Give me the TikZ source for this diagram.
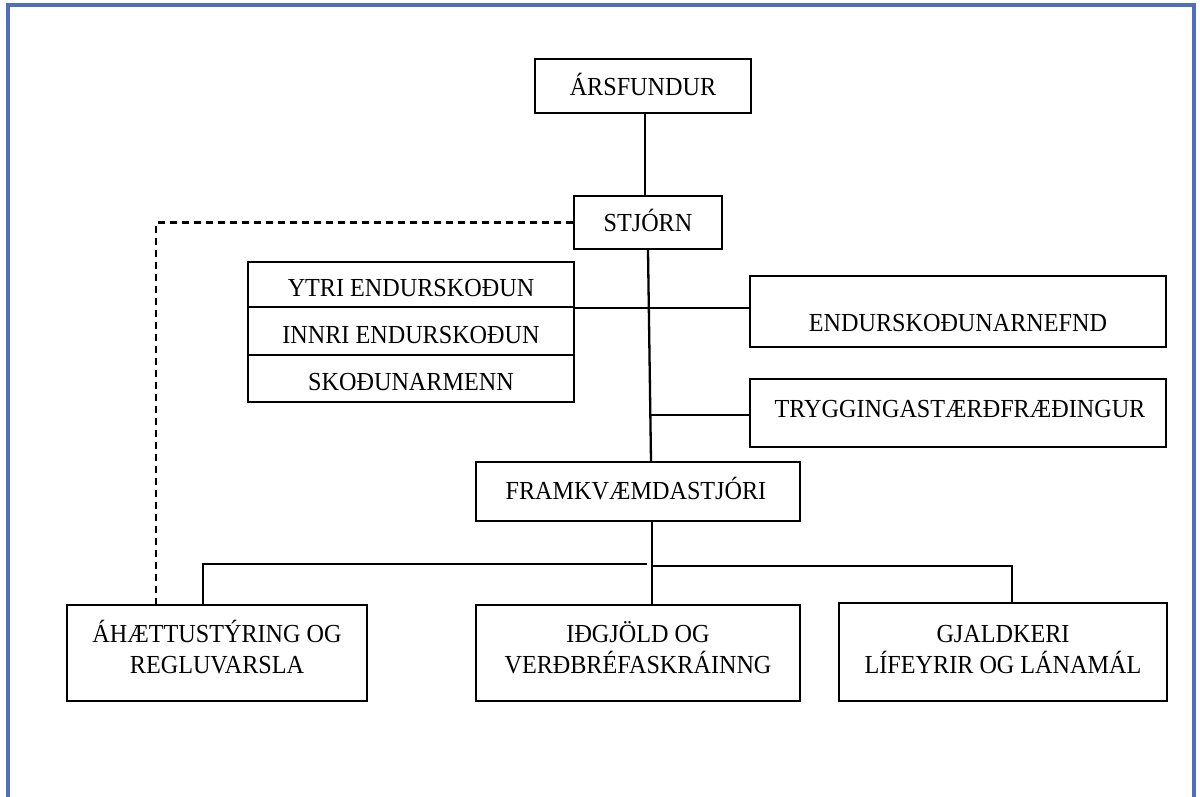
\documentclass[tikz,border=0pt]{standalone}
\usepackage{fontspec}
\setmainfont{Liberation Serif}[FakeStretch=0.93]
\definecolor{frameblue}{RGB}{80,110,190}
\begin{document}
\begin{tikzpicture}[x=1pt,y=-1pt,
  box/.style={draw=black, line width=2.4pt, inner sep=0pt, fill=white},
  txt/.style={inner sep=0pt, anchor=base, font=\fontsize{26}{30}\selectfont, text=black},
  link/.style={draw=black, line width=2.3pt},
  dlink/.style={draw=black, line width=2.3pt, dash pattern=on 7pt off 5pt}]
\useasboundingbox (0,0) rectangle (1200,796);
% frame
\draw[frameblue, line width=3.2pt] (8,797) -- (8,5) -- (1194,5) -- (1194,797);
% boxes
\node[box, minimum width=216, minimum height=54] (arsf) at (643,86) {};
\node[box, minimum width=148, minimum height=53] (stjorn) at (648,222.5) {};
\node[box, minimum width=326, minimum height=45] (ytri) at (411,284.5) {};
\node[box, minimum width=326, minimum height=48] (innri) at (411,331) {};
\node[box, minimum width=326, minimum height=47] (skod) at (411,378.5) {};
\node[box, minimum width=416, minimum height=71] (endur) at (958,311.5) {};
\node[box, minimum width=416, minimum height=68] (trygg) at (958,413) {};
\node[box, minimum width=324, minimum height=59] (framkv) at (638,491.5) {};
\node[box, minimum width=300, minimum height=96] (ahaettu) at (217,653) {};
\node[box, minimum width=324, minimum height=96] (idgjold) at (638,653) {};
\node[box, minimum width=328, minimum height=98] (gjald) at (1003,652) {};
% texts
\node[txt] (t-arsf) at (643,95) {ÁRSFUNDUR};
\node[txt] (t-stjorn) at (648,231) {STJÓRN};
\node[txt] (t-ytri) at (411,296) {YTRI ENDURSKOÐUN};
\node[txt] (t-innri) at (411,343) {INNRI ENDURSKOÐUN};
\node[txt] (t-skod) at (411,390) {SKOÐUNARMENN};
\node[txt] (t-endur) at (958,331) {ENDURSKOÐUNARNEFND};
\node[txt] (t-trygg) at (960,417) {TRYGGINGASTÆRÐFRÆÐINGUR};
\node[txt] (t-framkv) at (636,499) {FRAMKVÆMDASTJÓRI};
\node[txt] (t-ah1) at (217,642) {ÁHÆTTUSTÝRING OG};
\node[txt] (t-ah2) at (217,673) {REGLUVARSLA};
\node[txt] (t-id1) at (638,642) {IÐGJÖLD OG};
\node[txt] (t-id2) at (638,673) {VERÐBRÉFASKRÁINNG};
\node[txt] (t-gj1) at (1003,642) {GJALDKERI};
\node[txt] (t-gj2) at (1003,673) {LÍFEYRIR OG LÁNAMÁL};
% junctions
\coordinate (fk-top) at ([xshift=13pt]framkv.north);
\coordinate (j2) at (650.5,415);
\coordinate (fk-bot) at ([xshift=14pt]framkv.south);
\coordinate (hl) at (647,564);
\coordinate (hr) at (652,566);
\coordinate (cl) at (203,564);
\coordinate (cr) at (1012,566);
\coordinate (dcorner) at (156,222.5);
% connectors
\draw[link] (arsf.south -| 645,0) -- (stjorn.north -| 645,0);
\draw[link] (stjorn.south) -- (fk-top);
\draw[link] (ytri.south east) -- (ytri.south east -| endur.west);
\draw[link] (j2) -- (j2 -| trygg.west);
\draw[link] (fk-bot) -- (fk-bot |- idgjold.north);
\draw[link] (hl) -- (cl) -- (cl |- ahaettu.north);
\draw[link] (hr) -- (cr) -- (cr |- gjald.north);
\draw[dlink] (stjorn.west) -- (dcorner) -- (dcorner |- ahaettu.north);
\end{tikzpicture}
\end{document}
